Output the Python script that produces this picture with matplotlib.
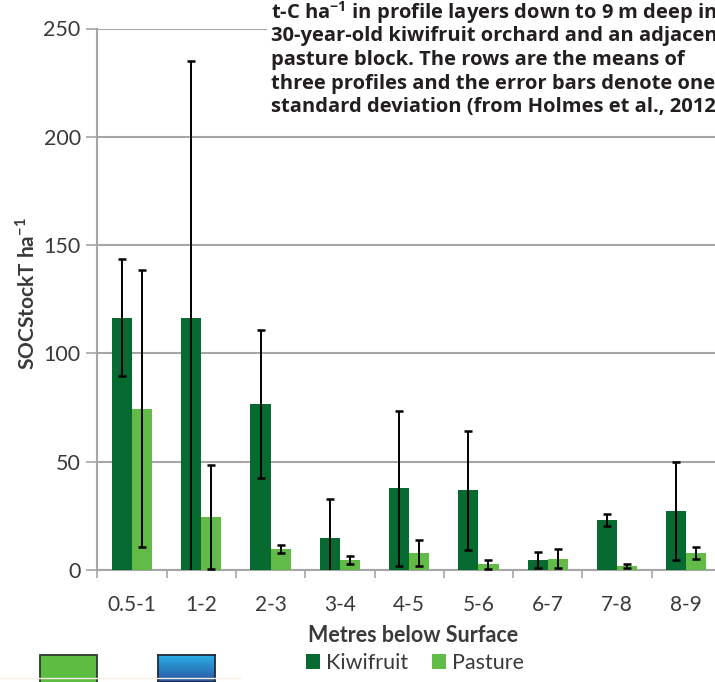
import matplotlib
matplotlib.use("Agg")
import matplotlib.pyplot as plt
import numpy as np
from matplotlib.patches import Rectangle
from matplotlib.lines import Line2D
from matplotlib.colors import LinearSegmentedColormap

plt.rcParams['font.family'] = ['Lato', 'DejaVu Sans']
plt.rcParams['mathtext.fontset'] = 'custom'
plt.rcParams['mathtext.rm'] = 'Open Sans:bold'
plt.rcParams['mathtext.bf'] = 'Lato:bold'

# Depth layers (m) and SOC stocks (t C / ha), mean and one SD
depths = ["0.5-1", "1-2", "2-3", "3-4", "4-5", "5-6", "6-7", "7-8", "8-9"]
kiwifruit = [116.5, 116.5, 76.6, 14.9, 37.7, 36.8, 4.6, 23.1, 27.1]
kiwifruit_sd = [27.0, 118.7, 34.0, 17.7, 35.8, 27.5, 3.8, 2.6, 22.6]
pasture = [74.5, 24.5, 9.7, 4.6, 7.8, 2.6, 5.2, 2.0, 7.7]
pasture_sd = [64.0, 24.0, 2.0, 2.0, 6.0, 2.0, 4.5, 1.0, 2.7]
y_ticks = [0, 50, 100, 150, 200, 250]

caption_lines = [
    r"t-C ha$^{-1}$ in profile layers down to 9 m deep in a",
    "30-year-old kiwifruit orchard and an adjacent",
    "pasture block. The rows are the means of",
    "three profiles and the error bars denote one",
    "standard deviation (from Holmes et al., 2012).",
]

kiwi_color = "#066a31"
pasture_color = "#62bb47"
grid_color = "#a6a6a6"
text_color = "#3a3a3a"

W, H = 715, 682
fig = plt.figure(figsize=(W / 100, H / 100), dpi=100)
ax = fig.add_axes([97.3 / W, (H - 570) / H, (721 - 97.3) / W, (570 - 28.5) / H])

x = np.arange(len(depths))
bw = 0.29
err_kw = dict(ecolor="black", elinewidth=1.4, capsize=3.2, capthick=1.8)
ax.bar(x - bw / 2, kiwifruit, bw, yerr=kiwifruit_sd, color=kiwi_color,
       label="Kiwifruit", error_kw=err_kw, zorder=3)
ax.bar(x + bw / 2, pasture, bw, yerr=pasture_sd, color=pasture_color,
       label="Pasture", error_kw=err_kw, zorder=3)

ax.set_xlim(-0.5, len(depths) - 0.5)
ax.set_ylim(0, 250)
ax.set_yticks(y_ticks)
ax.set_yticklabels([str(v) for v in y_ticks], fontsize=15.5, color=text_color)
ax.set_xticks(x)
ax.set_xticklabels(depths, fontsize=15, color=text_color)
ax.set_xticks(np.arange(-0.5, len(depths) + 0.5, 1), minor=True)
ax.tick_params(axis="x", which="major", length=0, pad=18)
ax.tick_params(axis="x", which="minor", length=6, width=1.2, color=grid_color)
ax.tick_params(axis="y", length=8, width=1.2, color=grid_color, pad=4)

ax.yaxis.grid(True, color=grid_color, linewidth=1.5, zorder=0)
ax.set_axisbelow(True)
for side in ["top", "right"]:
    ax.spines[side].set_visible(False)
for side in ["left", "bottom"]:
    ax.spines[side].set_color(grid_color)
    ax.spines[side].set_linewidth(1.5)

fig.text(413 / W, (H - 636) / H, "Metres below Surface", fontsize=15.5,
         fontweight="bold", color=text_color, ha="center", va="center")
fig.text(27 / W, (H - 294) / H, r"SOCStockT ha$^{\mathbf{-1}}$", fontsize=15,
         fontweight="bold", color=text_color, ha="center", va="center",
         rotation=90)

fig.legend(loc="center", bbox_to_anchor=(415 / W, (H - 663) / H), ncol=2,
           frameon=False, fontsize=15.5, handlelength=0.65, handleheight=0.65,
           handletextpad=0.3, columnspacing=1.1, labelcolor=text_color)

# Caption block sitting over the top-right of the plot
fig.patches.append(Rectangle((267 / W, (H - 118) / H), 1, 118 / H,
                             transform=fig.transFigure, facecolor="white",
                             edgecolor="none", zorder=5))
for i, line in enumerate(caption_lines):
    fig.text(271 / W, (H - 13 - i * 23.5) / H, line, fontsize=14.5,
             fontweight="bold", family="Open Sans", color="#231f20",
             va="center", ha="left", zorder=6)

# Partial boxes at the lower-left edge of the page
fig.add_artist(Line2D([0, 240 / W], [4 / H, 4 / H], transform=fig.transFigure,
                      color="#fbeee2", lw=1.0))
fig.patches.append(Rectangle((40 / W, -0.01), 57 / W, 27 / H + 0.01,
                             transform=fig.transFigure, facecolor="#5cbd42",
                             edgecolor="#2e3b2e", lw=1.3))
grad = LinearSegmentedColormap.from_list("blue", ["#2b55a2", "#2aaee6"])
gax = fig.add_axes([158 / W, 0, 57 / W, 27 / H])
gax.imshow(np.linspace(0, 1, 50).reshape(-1, 1), aspect="auto", cmap=grad,
           origin="lower")
gax.set_xticks([]); gax.set_yticks([])
for s in gax.spines.values():
    s.set_color("#1f2a3a"); s.set_linewidth(1.3)

fig.savefig("out.png", dpi=100)
